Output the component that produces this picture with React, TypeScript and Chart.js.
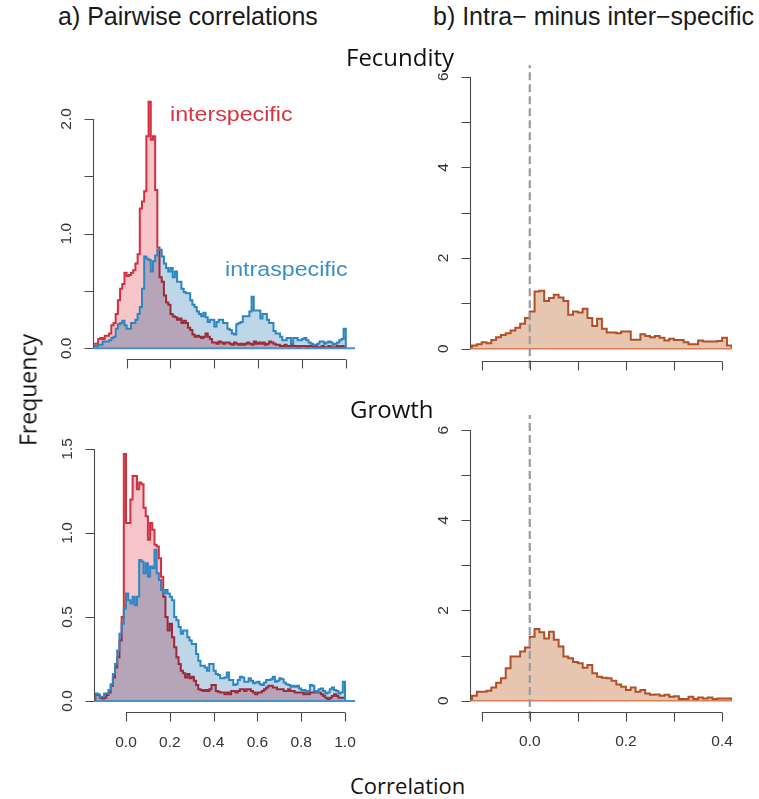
import React, { useEffect, useRef } from "react";
import { Chart, registerables } from "chart.js";

Chart.register(...registerables);

// ---------------- DATA ----------------
const BIN_WIDTH = 0.01;

// Fecundity, pairwise correlations (density per 0.01 bin, first bin starts at FEC_PAIR_START)
const FEC_PAIR_START = -0.15;
const FEC_INTER = [
  0.04, 0.04, 0.08, 0.09, 0.08, 0.11, 0.11, 0.13, 0.2, 0.22,
  0.3, 0.42, 0.52, 0.56, 0.66, 0.63, 0.64, 0.66, 0.68, 0.74,
  0.82, 1.22, 1.28, 1.37, 1.85, 2.15, 1.82, 1.85, 1.38, 0.88,
  0.62, 0.58, 0.46, 0.4, 0.38, 0.3, 0.28, 0.27, 0.25, 0.26,
  0.22, 0.24, 0.22, 0.18, 0.16, 0.12, 0.1, 0.11, 0.1, 0.09,
  0.1, 0.13, 0.1, 0.08, 0.05, 0.05, 0.04, 0.06, 0.05, 0.04,
  0.05, 0.05, 0.04, 0.03, 0.05, 0.04, 0.03, 0.04, 0.03, 0.04,
  0.05, 0.04, 0.03, 0.06, 0.04, 0.05, 0.04, 0.05, 0.03, 0.04,
  0.06, 0.05, 0.04, 0.03, 0.03, 0.02, 0.02, 0.03, 0.02, 0.02,
  0.03, 0.02, 0.02, 0.01, 0.02, 0.02, 0.02, 0.01, 0.02, 0.02,
  0.01, 0.02, 0.01, 0.01, 0.02, 0.01, 0.01, 0.02, 0.01, 0.01,
  0.01, 0.02, 0.01, 0.02, 0.01,
];
const FEC_INTRA = [
  0.02, 0.02, 0.03, 0.03, 0.06, 0.06, 0.06, 0.07, 0.09, 0.1,
  0.17, 0.21, 0.22, 0.24, 0.2, 0.17, 0.17, 0.22, 0.22, 0.25,
  0.3, 0.36, 0.52, 0.8, 0.78, 0.77, 0.67, 0.76, 0.81, 0.86,
  0.86, 0.8, 0.74, 0.7, 0.67, 0.7, 0.62, 0.67, 0.58, 0.58,
  0.52, 0.49, 0.48, 0.48, 0.42, 0.38, 0.36, 0.32, 0.3, 0.28,
  0.31, 0.27, 0.23, 0.25, 0.25, 0.19, 0.23, 0.25, 0.25, 0.22,
  0.22, 0.17, 0.16, 0.13, 0.12, 0.21, 0.22, 0.23, 0.28, 0.28,
  0.28, 0.32, 0.45, 0.33, 0.33, 0.33, 0.26, 0.3, 0.3, 0.25,
  0.22, 0.22, 0.15, 0.13, 0.13, 0.1, 0.07, 0.07, 0.09, 0.09,
  0.04, 0.09, 0.09, 0.07, 0.07, 0.08, 0.09, 0.07, 0.05, 0.04,
  0.03, 0.03, 0.04, 0.06, 0.06, 0.04, 0.05, 0.06, 0.05, 0.03,
  0.04, 0.05, 0.07, 0.08, 0.17,
];

// Growth, pairwise correlations
const GRO_PAIR_START = -0.14;
const GRO_INTER = [
  0.035, 0.035, 0.02, 0.015, 0.02, 0.035, 0.05, 0.09, 0.14, 0.2,
  0.26, 0.36, 0.5, 1.47, 1.06, 1.06, 1.2, 1.34, 1.34, 1.26,
  1.3, 1.29, 1.15, 1.1, 0.96, 1.06, 1.02, 0.93, 0.92, 0.85,
  0.74, 0.62, 0.5, 0.42, 0.46, 0.38, 0.32, 0.26, 0.22, 0.18,
  0.165, 0.14, 0.16, 0.135, 0.145, 0.12, 0.095, 0.07, 0.065, 0.06,
  0.065, 0.06, 0.07, 0.095, 0.095, 0.06, 0.055, 0.05, 0.05, 0.04,
  0.05, 0.04, 0.06, 0.06, 0.05, 0.06, 0.07, 0.07, 0.06, 0.07,
  0.07, 0.06, 0.05, 0.04, 0.05, 0.05, 0.06, 0.07, 0.08, 0.09,
  0.09, 0.08, 0.08, 0.07, 0.07, 0.07, 0.06, 0.06, 0.07, 0.06,
  0.06, 0.05, 0.05, 0.05, 0.05, 0.04, 0.05, 0.04, 0.05, 0.05,
  0.06, 0.05, 0.05, 0.04, 0.03, 0.02, 0.01, 0.02, 0.03, 0.04,
  0.03, 0.02, 0.02, 0.02,
];
const GRO_INTRA = [
  0.045, 0.04, 0.025, 0.025, 0.045, 0.045, 0.065, 0.1, 0.16, 0.22,
  0.3, 0.4, 0.46, 0.55, 0.64, 0.6, 0.58, 0.62, 0.57, 0.62,
  0.84, 0.83, 0.76, 0.82, 0.74, 0.8, 0.79, 0.9, 0.76, 0.72,
  0.66, 0.64, 0.66, 0.64, 0.62, 0.6, 0.5, 0.48, 0.44, 0.4,
  0.42, 0.42, 0.38, 0.36, 0.34, 0.34, 0.28, 0.24, 0.21, 0.21,
  0.2, 0.18, 0.22, 0.22, 0.18, 0.16, 0.155, 0.135, 0.135, 0.14,
  0.17, 0.125, 0.125, 0.095, 0.1, 0.125, 0.145, 0.14, 0.115, 0.115,
  0.135, 0.12, 0.105, 0.11, 0.115, 0.1, 0.095, 0.11, 0.125, 0.125,
  0.13, 0.145, 0.115, 0.12, 0.135, 0.13, 0.11, 0.1, 0.095, 0.085,
  0.09, 0.085, 0.09, 0.075, 0.065, 0.065, 0.055, 0.06, 0.095, 0.09,
  0.06, 0.055, 0.07, 0.075, 0.06, 0.045, 0.05, 0.07, 0.08, 0.065,
  0.06, 0.045, 0.05, 0.115,
];

// Intra- minus inter-specific differences
const DIFF_START = -0.12;
const FEC_DIFF = [
  0.07, 0.1, 0.14, 0.12, 0.19, 0.25, 0.3, 0.34, 0.4, 0.46,
  0.55, 0.68, 0.82, 1.26, 1.28, 1.05, 1.12, 1.19, 1.13, 1.05,
  0.75, 0.82, 0.8, 0.88, 0.68, 0.5, 0.66, 0.44, 0.36, 0.36,
  0.34, 0.38, 0.38, 0.2, 0.2, 0.32, 0.28, 0.25, 0.28, 0.24,
  0.18, 0.22, 0.19, 0.19, 0.14, 0.1, 0.1, 0.18, 0.16, 0.16,
  0.16, 0.17, 0.24, 0.07,
];
const GRO_DIFF = [
  0.11, 0.2, 0.2, 0.22, 0.29, 0.4, 0.5, 0.72, 0.98, 0.98,
  1.09, 1.18, 1.42, 1.59, 1.52, 1.38, 1.53, 1.35, 1.2, 0.98,
  0.94, 0.86, 0.83, 0.73, 0.79, 0.61, 0.53, 0.51, 0.5, 0.44,
  0.36, 0.31, 0.24, 0.29, 0.2, 0.24, 0.16, 0.13, 0.14, 0.11,
  0.13, 0.09, 0.1, 0.04, 0.04, 0.09, 0.04, 0.07, 0.05, 0.07,
  0.04, 0.05, 0.05, 0.05,
];
const ZERO_REFERENCE = 0;

// Ticks and labels
const PAIR_X_TICKS = [0, 0.2, 0.4, 0.6, 0.8, 1.0];
const PAIR_X_LABELS = ["0.0", "0.2", "0.4", "0.6", "0.8", "1.0"];
const DIFF_X_TICKS = [-0.1, 0, 0.1, 0.2, 0.3, 0.4];
const DIFF_X_LABEL_VALUES = [0, 0.2, 0.4];
const DIFF_X_LABELS = ["0.0", "0.2", "0.4"];
const FEC_PAIR_Y_TICKS = [0, 0.5, 1, 1.5, 2];
const FEC_PAIR_Y_LABEL_VALUES = [0, 1, 2];
const FEC_PAIR_Y_LABELS = ["0.0", "1.0", "2.0"];
const GRO_PAIR_Y_TICKS = [0, 0.5, 1, 1.5];
const GRO_PAIR_Y_LABEL_VALUES = [0, 0.5, 1, 1.5];
const GRO_PAIR_Y_LABELS = ["0.0", "0.5", "1.0", "1.5"];
const DIFF_Y_TICKS = [0, 1, 2, 3, 4, 5, 6];
const DIFF_Y_LABEL_VALUES = [0, 2, 4, 6];
const DIFF_Y_LABELS = ["0", "2", "4", "6"];

// ---------------- STYLE ----------------
const RED = "#d3303f";
const RED_FILL = "rgba(226,62,80,0.30)";
const BLUE = "#2e86c1";
const BLUE_FILL = "rgba(38,118,178,0.30)";
const BASE_BLUE = "#4a90c9";
const BROWN = "#b05028";
const TAN_FILL = "rgba(196,120,70,0.42)";
const ORANGE_BASE = "#e07c52";
const DASH_GREY = "#9b9b9b";
const AXIS_COLOR = "#4a4a4a";
const LABEL_COLOR = "#333";
const TICK_FONT = '15.5px "Liberation Sans", Arial, Helvetica, sans-serif';
const TICK_LEN = 9;
const Y_LABEL_OFFSET = 27;
const X_LABEL_OFFSET = 30;
const DASH_OVERSHOOT = 0.16;

function stepPoints(start: number, values: number[]) {
  const pts: { x: number; y: number }[] = [{ x: start, y: 0 }];
  values.forEach((v, i) => pts.push({ x: start + i * BIN_WIDTH, y: v }));
  const end = start + values.length * BIN_WIDTH;
  pts.push({ x: end, y: values[values.length - 1] });
  pts.push({ x: end, y: 0 });
  return pts;
}

type Labelled = { values: number[]; labels: string[] };
type AxisSpec = { xTicks: number[]; xLabels?: Labelled; yTicks: number[]; yLabels: Labelled };

function makeAxesPlugin(spec: AxisSpec) {
  return {
    id: "rAxes",
    afterDraw(chart: any) {
      const { ctx, chartArea: a } = chart;
      const xs = chart.scales.x;
      const ys = chart.scales.y;
      ctx.save();
      ctx.globalCompositeOperation = "source-over";
      ctx.strokeStyle = AXIS_COLOR;
      ctx.lineWidth = 1.1;
      const ax = Math.round(a.left) - 0.5;
      const ay = Math.round(a.bottom) + 0.5;
      ctx.beginPath();
      ctx.moveTo(ax, ys.getPixelForValue(spec.yTicks[0]));
      ctx.lineTo(ax, ys.getPixelForValue(spec.yTicks[spec.yTicks.length - 1]));
      for (const v of spec.yTicks) {
        const y = Math.round(ys.getPixelForValue(v)) + 0.5;
        ctx.moveTo(ax, y);
        ctx.lineTo(ax - TICK_LEN, y);
      }
      ctx.moveTo(xs.getPixelForValue(spec.xTicks[0]), ay);
      ctx.lineTo(xs.getPixelForValue(spec.xTicks[spec.xTicks.length - 1]), ay);
      for (const v of spec.xTicks) {
        const x = Math.round(xs.getPixelForValue(v)) + 0.5;
        ctx.moveTo(x, ay);
        ctx.lineTo(x, ay + TICK_LEN);
      }
      ctx.stroke();
      ctx.fillStyle = LABEL_COLOR;
      ctx.font = TICK_FONT;
      ctx.textAlign = "center";
      ctx.textBaseline = "middle";
      spec.yLabels.values.forEach((v, i) => {
        ctx.save();
        ctx.translate(a.left - Y_LABEL_OFFSET, ys.getPixelForValue(v));
        ctx.rotate(-Math.PI / 2);
        ctx.fillText(spec.yLabels.labels[i], 0, 0);
        ctx.restore();
      });
      if (spec.xLabels) {
        spec.xLabels.values.forEach((v, i) => {
          ctx.fillText(spec.xLabels!.labels[i], xs.getPixelForValue(v), a.bottom + X_LABEL_OFFSET);
        });
      }
      ctx.restore();
    },
  };
}

// Blend the intraspecific fill multiplicatively over the interspecific histogram
const overlapBlendPlugin = {
  id: "overlapBlend",
  afterDatasetDraw(chart: any, args: any) {
    if (chart.data.datasets[args.index].label === "interspecific") chart.ctx.globalCompositeOperation = "multiply";
  },
  beforeDatasetDraw(chart: any, args: any) {
    if (chart.data.datasets[args.index].label === "intraspecific") chart.ctx.globalCompositeOperation = "source-over";
  },
  afterDatasetsDraw(chart: any) {
    chart.ctx.globalCompositeOperation = "source-over";
  },
};

function pairDatasets(start: number, inter: number[], intra: number[], xr: number[]) {
  return [
    { label: "baseline", data: [{ x: xr[0], y: 0 }, { x: xr[1], y: 0 }], borderColor: BASE_BLUE, borderWidth: 2, fill: false, order: 0 },
    { label: "intraspecific", data: stepPoints(start, intra), stepped: true, borderColor: BLUE, backgroundColor: BLUE_FILL, fill: "origin", borderWidth: 2, order: 1 },
    { label: "interspecific", data: stepPoints(start, inter), stepped: true, borderColor: RED, backgroundColor: RED_FILL, fill: "origin", borderWidth: 2, order: 2 },
  ];
}

function diffDatasets(values: number[], xr: number[], yr: number[]) {
  return [
    { label: "zero", data: [{ x: ZERO_REFERENCE, y: yr[0] - DASH_OVERSHOOT }, { x: ZERO_REFERENCE, y: yr[1] }], borderColor: DASH_GREY, borderDash: [8, 4], borderWidth: 2.2, fill: false, clip: false, order: 0 },
    { label: "baseline", data: [{ x: xr[0], y: 0 }, { x: DIFF_START + values.length * BIN_WIDTH, y: 0 }], borderColor: ORANGE_BASE, borderWidth: 1.5, fill: false, order: 1 },
    { label: "difference", data: stepPoints(DIFF_START, values), stepped: true, borderColor: BROWN, backgroundColor: TAN_FILL, fill: "origin", borderWidth: 2, order: 2 },
  ];
}

type Panel = {
  key: string;
  box: { x: number; y: number; w: number; h: number };
  area: { l: number; t: number; r: number; b: number };
  xr: number[];
  yr: number[];
  datasets: () => any[];
  axes: AxisSpec;
  blend: boolean;
};

const PANELS: Panel[] = [
  {
    key: "fec-pair",
    box: { x: 40, y: 85, w: 330, h: 305 },
    area: { l: 94, t: 95, r: 355, b: 359.3 },
    xr: [-0.149, 1.042],
    yr: [-0.096, 2.2093],
    datasets: () => pairDatasets(FEC_PAIR_START, FEC_INTER, FEC_INTRA, [-0.149, 1.042]),
    axes: { xTicks: PAIR_X_TICKS, yTicks: FEC_PAIR_Y_TICKS, yLabels: { values: FEC_PAIR_Y_LABEL_VALUES, labels: FEC_PAIR_Y_LABELS } },
    blend: true,
  },
  {
    key: "fec-diff",
    box: { x: 420, y: 55, w: 330, h: 330 },
    area: { l: 471, t: 65, r: 732, b: 361 },
    xr: [-0.1222, 0.4205],
    yr: [-0.2713, 6.2586],
    datasets: () => diffDatasets(FEC_DIFF, [-0.1222, 0.4205], [-0.2713, 6.2586]),
    axes: { xTicks: DIFF_X_TICKS, yTicks: DIFF_Y_TICKS, yLabels: { values: DIFF_Y_LABEL_VALUES, labels: DIFF_Y_LABELS } },
    blend: false,
  },
  {
    key: "gro-pair",
    box: { x: 40, y: 430, w: 330, h: 340 },
    area: { l: 95, t: 440, r: 355, b: 712.3 },
    xr: [-0.1416, 1.0457],
    yr: [-0.0673, 1.5536],
    datasets: () => pairDatasets(GRO_PAIR_START, GRO_INTER, GRO_INTRA, [-0.1416, 1.0457]),
    axes: {
      xTicks: PAIR_X_TICKS,
      xLabels: { values: PAIR_X_TICKS, labels: PAIR_X_LABELS },
      yTicks: GRO_PAIR_Y_TICKS,
      yLabels: { values: GRO_PAIR_Y_LABEL_VALUES, labels: GRO_PAIR_Y_LABELS },
    },
    blend: true,
  },
  {
    key: "gro-diff",
    box: { x: 420, y: 405, w: 330, h: 365 },
    area: { l: 471, t: 415, r: 732, b: 711.7 },
    xr: [-0.1222, 0.4205],
    yr: [-0.2439, 6.3348],
    datasets: () => diffDatasets(GRO_DIFF, [-0.1222, 0.4205], [-0.2439, 6.3348]),
    axes: {
      xTicks: DIFF_X_TICKS,
      xLabels: { values: DIFF_X_LABEL_VALUES, labels: DIFF_X_LABELS },
      yTicks: DIFF_Y_TICKS,
      yLabels: { values: DIFF_Y_LABEL_VALUES, labels: DIFF_Y_LABELS },
    },
    blend: false,
  },
];

function makeConfig(p: Panel): any {
  const padding = {
    left: p.area.l - p.box.x,
    top: p.area.t - p.box.y,
    right: p.box.x + p.box.w - p.area.r,
    bottom: p.box.y + p.box.h - p.area.b,
  };
  const plugins: any[] = [makeAxesPlugin(p.axes)];
  if (p.blend) plugins.push(overlapBlendPlugin);
  return {
    type: "line",
    data: { datasets: p.datasets() },
    options: {
      responsive: false,
      maintainAspectRatio: false,
      animation: false,
      devicePixelRatio: 1,
      events: [],
      layout: { padding },
      plugins: { legend: { display: false }, tooltip: { enabled: false }, title: { display: false } },
      elements: { point: { radius: 0 }, line: { tension: 0, borderJoinStyle: "miter", borderCapStyle: "butt" } },
      scales: {
        x: { type: "linear", min: p.xr[0], max: p.xr[1], display: false },
        y: { type: "linear", min: p.yr[0], max: p.yr[1], display: false },
      },
    },
    plugins,
  };
}

function PanelCanvas({ panel }: { panel: Panel }) {
  const ref = useRef<HTMLCanvasElement | null>(null);
  useEffect(() => {
    if (!ref.current) return;
    const chart = new Chart(ref.current, makeConfig(panel));
    return () => chart.destroy();
  }, [panel]);
  return (
    <canvas
      ref={ref}
      width={panel.box.w}
      height={panel.box.h}
      style={{ position: "absolute", left: panel.box.x, top: panel.box.y, width: panel.box.w, height: panel.box.h }}
    />
  );
}

const SANS = '"Liberation Sans", Arial, Helvetica, sans-serif';
const OPEN = '"Open Sans", "Noto Sans", sans-serif';

const txt = (extra: React.CSSProperties): React.CSSProperties => ({
  position: "absolute",
  whiteSpace: "nowrap",
  lineHeight: 1,
  margin: 0,
  ...extra,
});

export default function App() {
  return (
    <div style={{ position: "absolute", left: 0, top: 0, width: 759, height: 799, background: "#fff", overflow: "hidden" }}>
      {PANELS.map((p) => (
        <PanelCanvas key={p.key} panel={p} />
      ))}
      <div style={txt({ left: 58, top: 4, fontFamily: SANS, fontSize: 25, color: "#1a1a1a" })}>a) Pairwise correlations</div>
      <div style={txt({ left: 433, top: 4, fontFamily: SANS, fontSize: 25, color: "#1a1a1a" })}>b) Intra− minus inter−specific</div>
      <div style={txt({ left: 346, top: 45, fontFamily: OPEN, fontSize: 24, color: "#111" })}>Fecundity</div>
      <div style={txt({ left: 350, top: 397, fontFamily: OPEN, fontSize: 24, color: "#111" })}>Growth</div>
      <div style={txt({ left: 350, top: 774, fontFamily: OPEN, fontSize: 22, color: "#111" })}>Correlation</div>
      <div
        style={txt({
          left: 28,
          top: 390,
          fontFamily: OPEN,
          fontSize: 23,
          color: "#111",
          transform: "translate(-50%, -50%) rotate(-90deg)",
        })}
      >
        Frequency
      </div>
      <div style={txt({ left: 170, top: 104, fontFamily: SANS, fontSize: 20, color: "#d8343f", transform: "scaleX(1.16)", transformOrigin: "left center" })}>
        interspecific
      </div>
      <div style={txt({ left: 225, top: 259, fontFamily: SANS, fontSize: 20, color: "#3a8fc6", transform: "scaleX(1.16)", transformOrigin: "left center" })}>
        intraspecific
      </div>
    </div>
  );
}
